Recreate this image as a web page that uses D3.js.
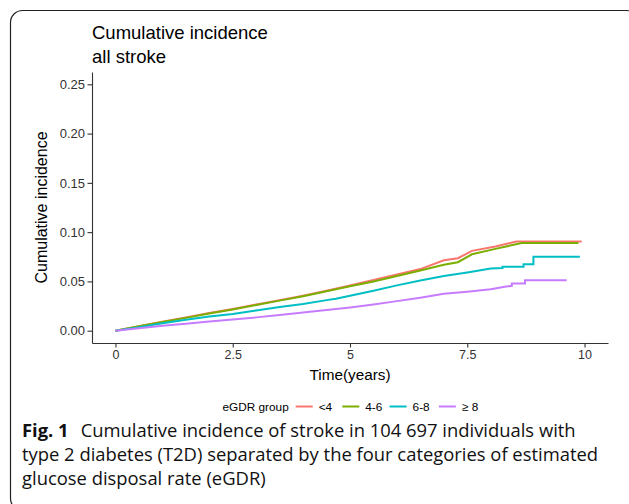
<!DOCTYPE html>
<html>
<head>
<meta charset="utf-8">
<script src="https://d3js.org/d3.v7.min.js"></script>
<style>
  body { margin: 0; background: #fff; }
  svg { display: block; }
</style>
</head>
<body>
<div id="chart"></div>
<script>
// group names and colours (ggplot default hues)
var groups = ["<4", "4-6", "6-8", "\u2265 8"];
var colors = ["#F8766D", "#7CAE00", "#00BFC4", "#C77CFF"];

// cumulative incidence: [time in years, incidence]
// repeated times mark the visible jumps near the end of follow-up
var inc_lt4 = [[0,0],[0.5,0.0045],[1,0.009],[1.5,0.0135],[2,0.018],[2.5,0.022],[3,0.0265],[3.5,0.031],
  [4,0.0355],[4.5,0.0405],[5,0.046],[5.5,0.0515],[6,0.057],[6.5,0.0625],[7,0.0715],[7.3,0.0735],
  [7.6,0.081],[8.1,0.0855],[8.55,0.0905],[9.94,0.0905]];
var inc_4to6 = [[0,0],[0.5,0.0045],[1,0.0088],[1.5,0.013],[2,0.0175],[2.5,0.0215],[3,0.026],[3.5,0.0305],
  [4,0.035],[4.5,0.040],[5,0.045],[5.5,0.050],[6,0.0555],[6.5,0.061],[7,0.067],[7.3,0.0695],
  [7.6,0.0775],[8.1,0.083],[8.66,0.089],[9.87,0.089]];
var inc_6to8 = [[0,0],[0.5,0.0035],[1,0.0075],[1.5,0.011],[2,0.0145],[2.5,0.017],[3,0.0205],[3.5,0.024],
  [4,0.027],[4.5,0.031],[4.7,0.0325],[5,0.0355],[5.5,0.0405],[6,0.046],[6.5,0.051],[7,0.0555],
  [7.5,0.059],[8,0.063],[8.25,0.0635],[8.25,0.065],[8.7,0.065],[8.7,0.0674],[8.91,0.0674],
  [8.91,0.0751],[9.9,0.0751]];
var inc_ge8 = [[0,0],[0.5,0.0025],[1,0.005],[1.5,0.007],[2,0.0092],[2.5,0.0113],[3,0.0135],[3.5,0.016],
  [4,0.0185],[4.5,0.021],[5,0.0235],[5.5,0.0265],[6,0.030],[6.5,0.0335],[7,0.0375],[7.5,0.0395],
  [8,0.042],[8.3,0.0445],[8.45,0.0455],[8.45,0.048],[8.73,0.048],[8.73,0.0511],[9.62,0.0511]];
var series = [inc_lt4, inc_4to6, inc_6to8, inc_ge8];

var xTicks = [0, 2.5, 5, 7.5, 10];
var yTicks = [0, 0.05, 0.10, 0.15, 0.20, 0.25];

var W = 629, H = 504;
var svg = d3.select("#chart").append("svg")
    .attr("width", W)
    .attr("height", H);

// rounded frame, cut by the picture edge
svg.append("rect")
    .attr("x", 10.5).attr("y", 10.5)
    .attr("width", 628).attr("height", 500)
    .attr("rx", 12).attr("ry", 12)
    .style("fill", "none")
    .style("stroke", "#222")
    .style("stroke-width", 1.2);

var font = "'Liberation Sans', Arial, sans-serif";

// panel
var pLeft = 92, pRight = 608, pTop = 72, pBottom = 343;
var x = d3.scaleLinear().domain([-0.5, 10.5]).range([pLeft, pRight]);
var y = d3.scaleLinear().domain([-0.0125, 0.2625]).range([pBottom, pTop]);

// title
var title = svg.append("text")
    .style("font-family", font)
    .style("font-size", "18.5px")
    .style("fill", "#000");
title.append("tspan").attr("x", pLeft).attr("y", 39).text("Cumulative incidence");
title.append("tspan").attr("x", pLeft).attr("y", 63).text("all stroke");

// axes
var yAxis = svg.append("g")
    .attr("transform", "translate(" + pLeft + ",0)")
    .call(d3.axisLeft(y).tickValues(yTicks).tickFormat(d3.format(".2f"))
        .tickSize(4.5).tickSizeOuter(0).tickPadding(2.5));
var xAxis = svg.append("g")
    .attr("transform", "translate(0," + pBottom + ")")
    .call(d3.axisBottom(x).tickValues(xTicks).tickFormat(function(d) { return String(d); })
        .tickSize(4.5).tickSizeOuter(0).tickPadding(3));

[yAxis, xAxis].forEach(function(a) {
    a.select(".domain").style("stroke", "#333").style("stroke-width", 1.1);
    a.selectAll(".tick line").style("stroke", "#333").style("stroke-width", 1.1);
    a.selectAll(".tick text").style("font-family", font).style("fill", "#333");
});
yAxis.selectAll(".tick text").style("font-size", "13px");
xAxis.selectAll(".tick text").style("font-size", "12.5px");

// axis titles
svg.append("text")
    .attr("transform", "translate(46.5," + ((pTop + pBottom) / 2) + ") rotate(-90)")
    .attr("text-anchor", "middle")
    .style("font-family", font)
    .style("font-size", "16px")
    .text("Cumulative incidence");
svg.append("text")
    .attr("x", (pLeft + pRight) / 2)
    .attr("y", 380)
    .attr("text-anchor", "middle")
    .style("font-family", font)
    .style("font-size", "15.3px")
    .text("Time(years)");

// curves
var line = d3.line()
    .x(function(d) { return x(d[0]); })
    .y(function(d) { return y(d[1]); });

svg.append("g")
    .selectAll("path")
    .data(series)
    .enter()
    .append("path")
    .attr("d", line)
    .style("fill", "none")
    .style("stroke", function(d, i) { return colors[i]; })
    .style("stroke-width", 2);

// legend
var legend = svg.append("g").attr("transform", "translate(0,406.5)");
legend.append("text")
    .attr("x", 222.5).attr("y", 4)
    .style("font-family", font)
    .style("font-size", "11.8px")
    .text("eGDR group");
var keyX = [295.7, 342.3, 389.6, 438.9];
var item = legend.selectAll("g.item")
    .data(groups)
    .enter()
    .append("g")
    .attr("class", "item")
    .attr("transform", function(d, i) { return "translate(" + keyX[i] + ",0)"; });
item.append("line")
    .attr("x1", 0).attr("x2", 17)
    .style("stroke", function(d, i) { return colors[i]; })
    .style("stroke-width", 2);
item.append("text")
    .attr("x", 23).attr("y", 4)
    .style("font-family", font)
    .style("font-size", "11.8px")
    .text(function(d) { return d; });

// caption
var capFont = "'Open Sans', 'Noto Sans', sans-serif";
var cap = svg.append("g").style("font-family", capFont).style("font-size", "18.4px").style("fill", "#111");
var l1 = cap.append("text").attr("x", 22).attr("y", 437);
l1.append("tspan").style("font-weight", "bold").text("Fig. 1");
l1.append("tspan").attr("dx", 12).text("Cumulative incidence of stroke in 104 697 individuals with");
cap.append("text").attr("x", 22).attr("y", 461)
    .text("type 2 diabetes (T2D) separated by the four categories of estimated");
cap.append("text").attr("x", 22).attr("y", 485)
    .text("glucose disposal rate (eGDR)");
</script>
</body>
</html>
